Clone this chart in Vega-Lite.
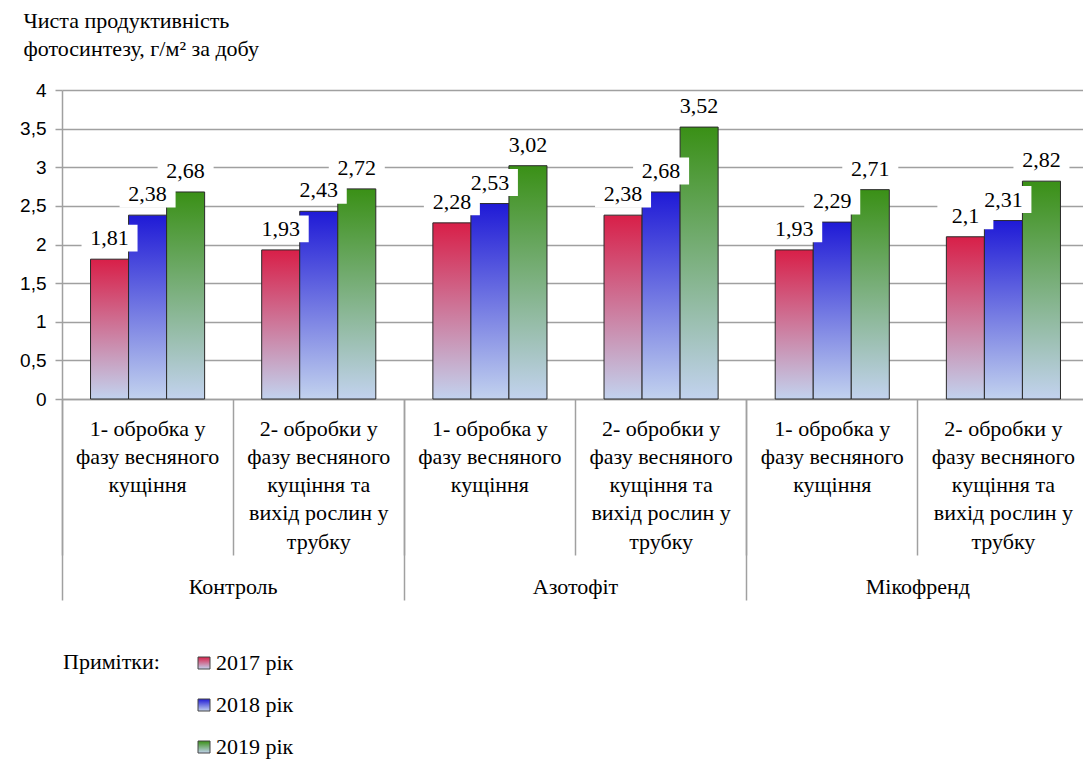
{
  "$schema": "https://vega.github.io/schema/vega-lite/v6.json",
  "autosize": "none",
  "width": 1027,
  "height": 309,
  "padding": {"left": 62, "top": 90, "right": -6, "bottom": 361},
  "config": {
    "view": {"stroke": null},
    "locale": {"number": {"decimal": ",", "thousands": " ", "grouping": [3], "currency": ["", ""]}},
    "font": "Liberation Serif",
    "text": {"font": "Liberation Serif"},
    "axisY": {"labelOverlap": false, "labelFont": "Liberation Sans", "labelFontSize": 19, "labelColor": "black"},
    "axisX": {"labelFont": "Liberation Serif", "labelFontSize": 22, "labelColor": "black"},
    "legend": {"labelFont": "Liberation Serif", "titleFont": "Liberation Serif"}
  },
  "data": {
    "values": [
      {"cat": "Контроль|1- обробка у|фазу весняного|кущіння", "year": "2017 рік", "value": 1.81},
      {"cat": "Контроль|1- обробка у|фазу весняного|кущіння", "year": "2018 рік", "value": 2.38},
      {"cat": "Контроль|1- обробка у|фазу весняного|кущіння", "year": "2019 рік", "value": 2.68},
      {"cat": "Контроль|2- обробки у|фазу весняного|кущіння та|вихід рослин у|трубку", "year": "2017 рік", "value": 1.93},
      {"cat": "Контроль|2- обробки у|фазу весняного|кущіння та|вихід рослин у|трубку", "year": "2018 рік", "value": 2.43},
      {"cat": "Контроль|2- обробки у|фазу весняного|кущіння та|вихід рослин у|трубку", "year": "2019 рік", "value": 2.72},
      {"cat": "Азотофіт|1- обробка у|фазу весняного|кущіння", "year": "2017 рік", "value": 2.28},
      {"cat": "Азотофіт|1- обробка у|фазу весняного|кущіння", "year": "2018 рік", "value": 2.53},
      {"cat": "Азотофіт|1- обробка у|фазу весняного|кущіння", "year": "2019 рік", "value": 3.02},
      {"cat": "Азотофіт|2- обробки у|фазу весняного|кущіння та|вихід рослин у|трубку", "year": "2017 рік", "value": 2.38},
      {"cat": "Азотофіт|2- обробки у|фазу весняного|кущіння та|вихід рослин у|трубку", "year": "2018 рік", "value": 2.68},
      {"cat": "Азотофіт|2- обробки у|фазу весняного|кущіння та|вихід рослин у|трубку", "year": "2019 рік", "value": 3.52},
      {"cat": "Мікофренд|1- обробка у|фазу весняного|кущіння", "year": "2017 рік", "value": 1.93},
      {"cat": "Мікофренд|1- обробка у|фазу весняного|кущіння", "year": "2018 рік", "value": 2.29},
      {"cat": "Мікофренд|1- обробка у|фазу весняного|кущіння", "year": "2019 рік", "value": 2.71},
      {"cat": "Мікофренд|2- обробки у|фазу весняного|кущіння та|вихід рослин у|трубку", "year": "2017 рік", "value": 2.1},
      {"cat": "Мікофренд|2- обробки у|фазу весняного|кущіння та|вихід рослин у|трубку", "year": "2018 рік", "value": 2.31},
      {"cat": "Мікофренд|2- обробки у|фазу весняного|кущіння та|вихід рослин у|трубку", "year": "2019 рік", "value": 2.82}
    ]
  },
  "resolve": {"axis": {"x": "independent"}},
  "layer": [
    {
      "mark": {"type": "bar", "stroke": "#2a2a2a", "strokeWidth": 1},
      "encoding": {
        "x": {
          "field": "cat", "type": "nominal", "sort": null,
          "scale": {"paddingInner": 0, "paddingOuter": 0},
          "axis": {
            "orient": "bottom", "title": null, "grid": false,
            "bandPosition": 0,
            "domainColor": "#a0a0a0", "domainWidth": 1.5,
            "tickColor": "#a0a0a0", "tickWidth": 1.5, "tickSize": 156,
            "labelExpr": "slice(split(datum.value, '|'), 1)",
            "labelLineHeight": 28.3, "labelBaseline": "top", "labelAlign": "center",
            "labelAngle": 0, "labelPadding": -137, "labelLimit": 0, "labelOverlap": false, "labelFlush": false
          }
        },
        "xOffset": {"field": "year", "type": "nominal", "scale": {"paddingInner": 0, "paddingOuter": 0.75}},
        "y": {
          "field": "value", "type": "quantitative",
          "scale": {"domain": [0, 4], "nice": false},
          "axis": {
            "values": [0, 0.5, 1, 1.5, 2, 2.5, 3, 3.5, 4],
            "tickCount": 12,
            "format": "~g",
            "domainColor": "#a0a0a0", "domainWidth": 1.5,
            "tickColor": "#a0a0a0", "tickWidth": 1.5, "tickSize": 7,
            "gridColor": "#a0a0a0", "gridWidth": 1.5,
            "labelPadding": 9,
            "title": ["Чиста продуктивність", "фотосинтезу, г/м² за добу"],
            "titleAngle": 0, "titleAlign": "left", "titleBaseline": "alphabetic",
            "titleX": -39, "titleY": -63, "titleLineHeight": 28,
            "titleFont": "Liberation Serif", "titleFontSize": 22, "titleFontWeight": "normal", "titleColor": "black"
          }
        },
        "color": {
          "field": "year", "type": "nominal",
          "scale": {
            "domain": ["2017 рік", "2018 рік", "2019 рік"],
            "range": [
              {"expr": "{gradient: 'linear', x1: 0, y1: 0, x2: 0, y2: 1, stops: [{offset: 0, color: '#d81f48'}, {offset: 1, color: '#c2d2ee'}]}"},
              {"expr": "{gradient: 'linear', x1: 0, y1: 0, x2: 0, y2: 1, stops: [{offset: 0, color: '#1f1ad6'}, {offset: 1, color: '#c2d2ee'}]}"},
              {"expr": "{gradient: 'linear', x1: 0, y1: 0, x2: 0, y2: 1, stops: [{offset: 0, color: '#3a9016'}, {offset: 1, color: '#c2d2ee'}]}"}
            ]
          },
          "legend": {
            "orient": "none", "legendX": 1, "legendY": 562, "direction": "vertical",
            "title": "Примітки:", "titleOrient": "left", "titleAnchor": "start", "titleBaseline": "top",
            "titleFontSize": 22, "titleFontWeight": "normal", "titleColor": "black",
            "titlePadding": 33,
            "labelFontSize": 22, "labelColor": "black", "labelOffset": 1,
            "symbolType": "square", "symbolSize": 144, "symbolStrokeColor": "#444", "symbolStrokeWidth": 1,
            "rowPadding": 20
          }
        }
      }
    },
    {
      "mark": {"type": "point", "shape": "M-1,-0.48L1,-0.48L1,0.48L-1,0.48Z", "filled": true, "fill": "white", "opacity": 1, "strokeWidth": 0, "size": 3136, "yOffset": -21},
      "encoding": {
        "x": {
          "field": "cat", "type": "nominal", "sort": null,
          "axis": {
            "orient": "bottom", "title": null, "grid": false, "domain": false,
            "values": [
              "Контроль|1- обробка у|фазу весняного|кущіння",
              "Азотофіт|1- обробка у|фазу весняного|кущіння",
              "Мікофренд|1- обробка у|фазу весняного|кущіння"
            ],
            "bandPosition": 0,
            "tickColor": "#a0a0a0", "tickWidth": 1.5, "tickSize": 201,
            "labelExpr": "split(datum.value, '|')[0]",
            "labelBaseline": "middle", "labelAlign": "center", "labelAngle": 0,
            "labelOffset": 85.58, "labelPadding": -14, "labelLimit": 0, "labelOverlap": false, "labelFlush": false
          }
        },
        "xOffset": {"field": "year", "type": "nominal"},
        "y": {"field": "value", "type": "quantitative"}
      }
    },
    {
      "mark": {"type": "text", "fontSize": 22, "color": "black", "baseline": "middle", "align": "center", "yOffset": -21},
      "encoding": {
        "x": {"field": "cat", "type": "nominal", "sort": null, "axis": null},
        "xOffset": {"field": "year", "type": "nominal"},
        "y": {"field": "value", "type": "quantitative"},
        "text": {"field": "value", "type": "quantitative", "format": "~g"}
      }
    }
  ]
}
